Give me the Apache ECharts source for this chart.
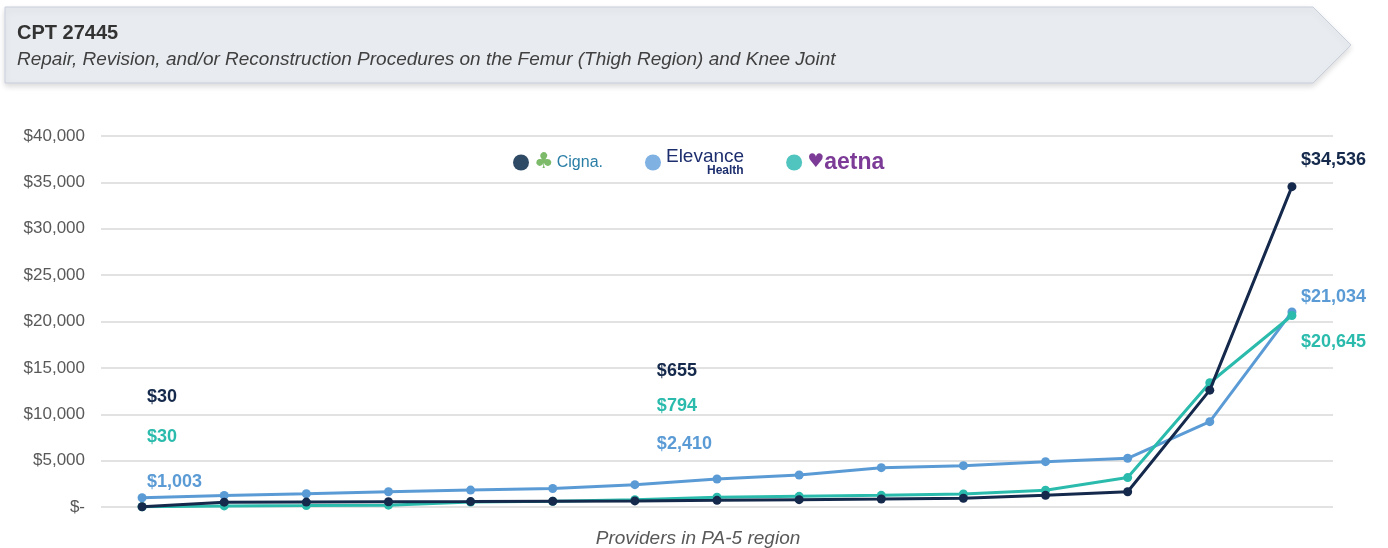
<!DOCTYPE html>
<html>
<head>
<meta charset="utf-8">
<script src="https://cdn.jsdelivr.net/npm/echarts@6/dist/echarts.min.js"></script>
<style>
  html, body { margin: 0; padding: 0; background: #fff; }
  #main { width: 1388px; height: 548px; }
</style>
</head>
<body>
<div id="main"></div>
<script>
// providers in PA-5 region, each payer sorted low -> high
var providers = ["P1", "P2", "P3", "P4", "P5", "P6", "P7", "P8", "P9", "P10", "P11", "P12", "P13", "P14", "P15"];
var cigna = [30, 520, 530, 560, 580, 620, 655, 720, 790, 860, 940, 1260, 1650, 12600, 34536];
var elevance = [1003, 1250, 1430, 1640, 1820, 2000, 2410, 3020, 3450, 4240, 4460, 4890, 5250, 9200, 21034];
var aetna = [30, 120, 150, 200, 540, 610, 794, 1050, 1150, 1260, 1400, 1800, 3170, 13400, 20645];
var yTicks = [0, 5000, 10000, 15000, 20000, 25000, 30000, 35000, 40000];

var FONT = "Liberation Sans";

function money(v) {
  if (v === 0) return "$-";
  return "$" + v.toLocaleString("en-US");
}

// callout labels: anchored on the chart scale, first / median / last provider
function callout(cat, yVal, text, color, dx) {
  return {
    coord: [cat, yVal],
    name: text,
    symbolSize: 0,
    label: {
      show: true,
      position: "right",
      distance: 5,
      offset: [dx, 0],
      formatter: "{b}",
      color: color,
      fontFamily: FONT,
      fontWeight: "bold",
      fontSize: 18
    }
  };
}

var C_CIGNA = "#14294b", C_ELEV = "#5b9bd5", C_AETNA = "#2bbbad";
var last = providers.length - 1, mid = 6;

var chart = echarts.init(document.getElementById("main"), null, { renderer: "canvas" });

var option = {
  animation: false,
  graphic: [
    {
      type: "polygon",
      shape: { points: [[5, 7], [1313, 7], [1351, 45], [1313, 83], [5, 83]] },
      style: {
        fill: "#e8ebf0",
        stroke: "#c9cfdb",
        lineWidth: 1,
        shadowBlur: 6,
        shadowOffsetY: 3,
        shadowColor: "rgba(0,0,0,0.15)"
      },
      z: 0
    },
    {
      type: "text", left: 17, top: 23,
      style: { text: "CPT 27445", fill: "#333", font: "bold 20px 'Liberation Sans'" },
      z: 1
    },
    {
      type: "text", left: 17, top: 50,
      style: {
        text: "Repair, Revision, and/or Reconstruction Procedures on the Femur (Thigh Region) and Knee Joint",
        fill: "#404040", font: "italic 19px 'Liberation Sans'"
      },
      z: 1
    }
  ],
  legend: {
    top: 142,
    left: 508,
    itemWidth: 16,
    itemHeight: 16,
    itemGap: 42,
    icon: "circle",
    data: [
      { name: "Cigna", itemStyle: { color: "#2f4a64" } },
      { name: "Elevance Health", itemStyle: { color: "#7fb1e3" } },
      { name: "aetna", itemStyle: { color: "#50c4be" } }
    ],
    formatter: function (n) {
      if (n === "Cigna") return "{tree|♣}{cig|Cigna.}";
      if (n === "Elevance Health") return "{ev|Elevance}\n{eh|Health}";
      return "{ah|♥}{at|aetna}";
    },
    textStyle: {
      rich: {
        tree: { color: "#7dbb6a", fontSize: 22, fontFamily: "DejaVu Sans", padding: [0, 3, 0, 0] },
        cig: { color: "#2a7ea6", fontSize: 16, fontFamily: FONT },
        ev: { color: "#1d2e6e", fontSize: 19, fontFamily: FONT, lineHeight: 17 },
        eh: { color: "#1d2e6e", fontSize: 12, fontWeight: "bold", fontFamily: FONT, padding: [0, 0, 0, 41], lineHeight: 12 },
        ah: { color: "#7b3b96", fontSize: 19, fontFamily: "DejaVu Sans" },
        at: { color: "#7b3b96", fontSize: 23, fontWeight: "bold", fontFamily: FONT }
      }
    }
  },
  grid: { left: 101, right: 55, top: 136, bottom: 41, outerBoundsMode: "none", containLabel: false },
  xAxis: {
    type: "category",
    data: providers,
    boundaryGap: true,
    axisLine: { show: false },
    axisTick: { show: false },
    axisLabel: { show: false },
    name: "Providers in PA-5 region",
    nameLocation: "middle",
    nameGap: 22,
    nameTextStyle: { fontFamily: FONT, fontStyle: "italic", fontSize: 19, color: "#595959", padding: [0, 38, 0, 0] }
  },
  yAxis: {
    type: "value",
    min: yTicks[0],
    max: yTicks[yTicks.length - 1],
    interval: yTicks[1] - yTicks[0],
    axisLine: { show: false },
    axisTick: { show: false },
    splitLine: { lineStyle: { color: "#d9d9d9", width: 1.5 } },
    axisLabel: {
      formatter: money,
      fontFamily: FONT,
      fontSize: 17,
      color: "#595959",
      margin: 16
    }
  },
  series: [
    {
      name: "Elevance Health",
      type: "line",
      data: elevance,
      color: C_ELEV,
      symbol: "circle",
      symbolSize: 9,
      lineStyle: { width: 3 },
      z: 2,
      markPoint: {
        data: [
          callout(providers[0], 2660, money(elevance[0]), C_ELEV, 0),
          callout(providers[mid], 6760, money(elevance[mid]), C_ELEV, 17),
          callout(providers[last], 22600, money(elevance[last]), C_ELEV, 4)
        ]
      }
    },
    {
      name: "aetna",
      type: "line",
      data: aetna,
      color: C_AETNA,
      symbol: "circle",
      symbolSize: 9,
      lineStyle: { width: 3 },
      z: 3,
      markPoint: {
        data: [
          callout(providers[0], 7510, money(aetna[0]), C_AETNA, 0),
          callout(providers[mid], 10850, money(aetna[mid]), C_AETNA, 17),
          callout(providers[last], 17750, money(aetna[last]), C_AETNA, 4)
        ]
      }
    },
    {
      name: "Cigna",
      type: "line",
      data: cigna,
      color: C_CIGNA,
      symbol: "circle",
      symbolSize: 9,
      lineStyle: { width: 3 },
      z: 4,
      markPoint: {
        data: [
          callout(providers[0], 11820, money(cigna[0]), C_CIGNA, 0),
          callout(providers[mid], 14620, money(cigna[mid]), C_CIGNA, 17),
          callout(providers[last], 37360, money(cigna[last]), C_CIGNA, 4)
        ]
      }
    }
  ]
};

chart.setOption(option);
</script>
</body>
</html>
